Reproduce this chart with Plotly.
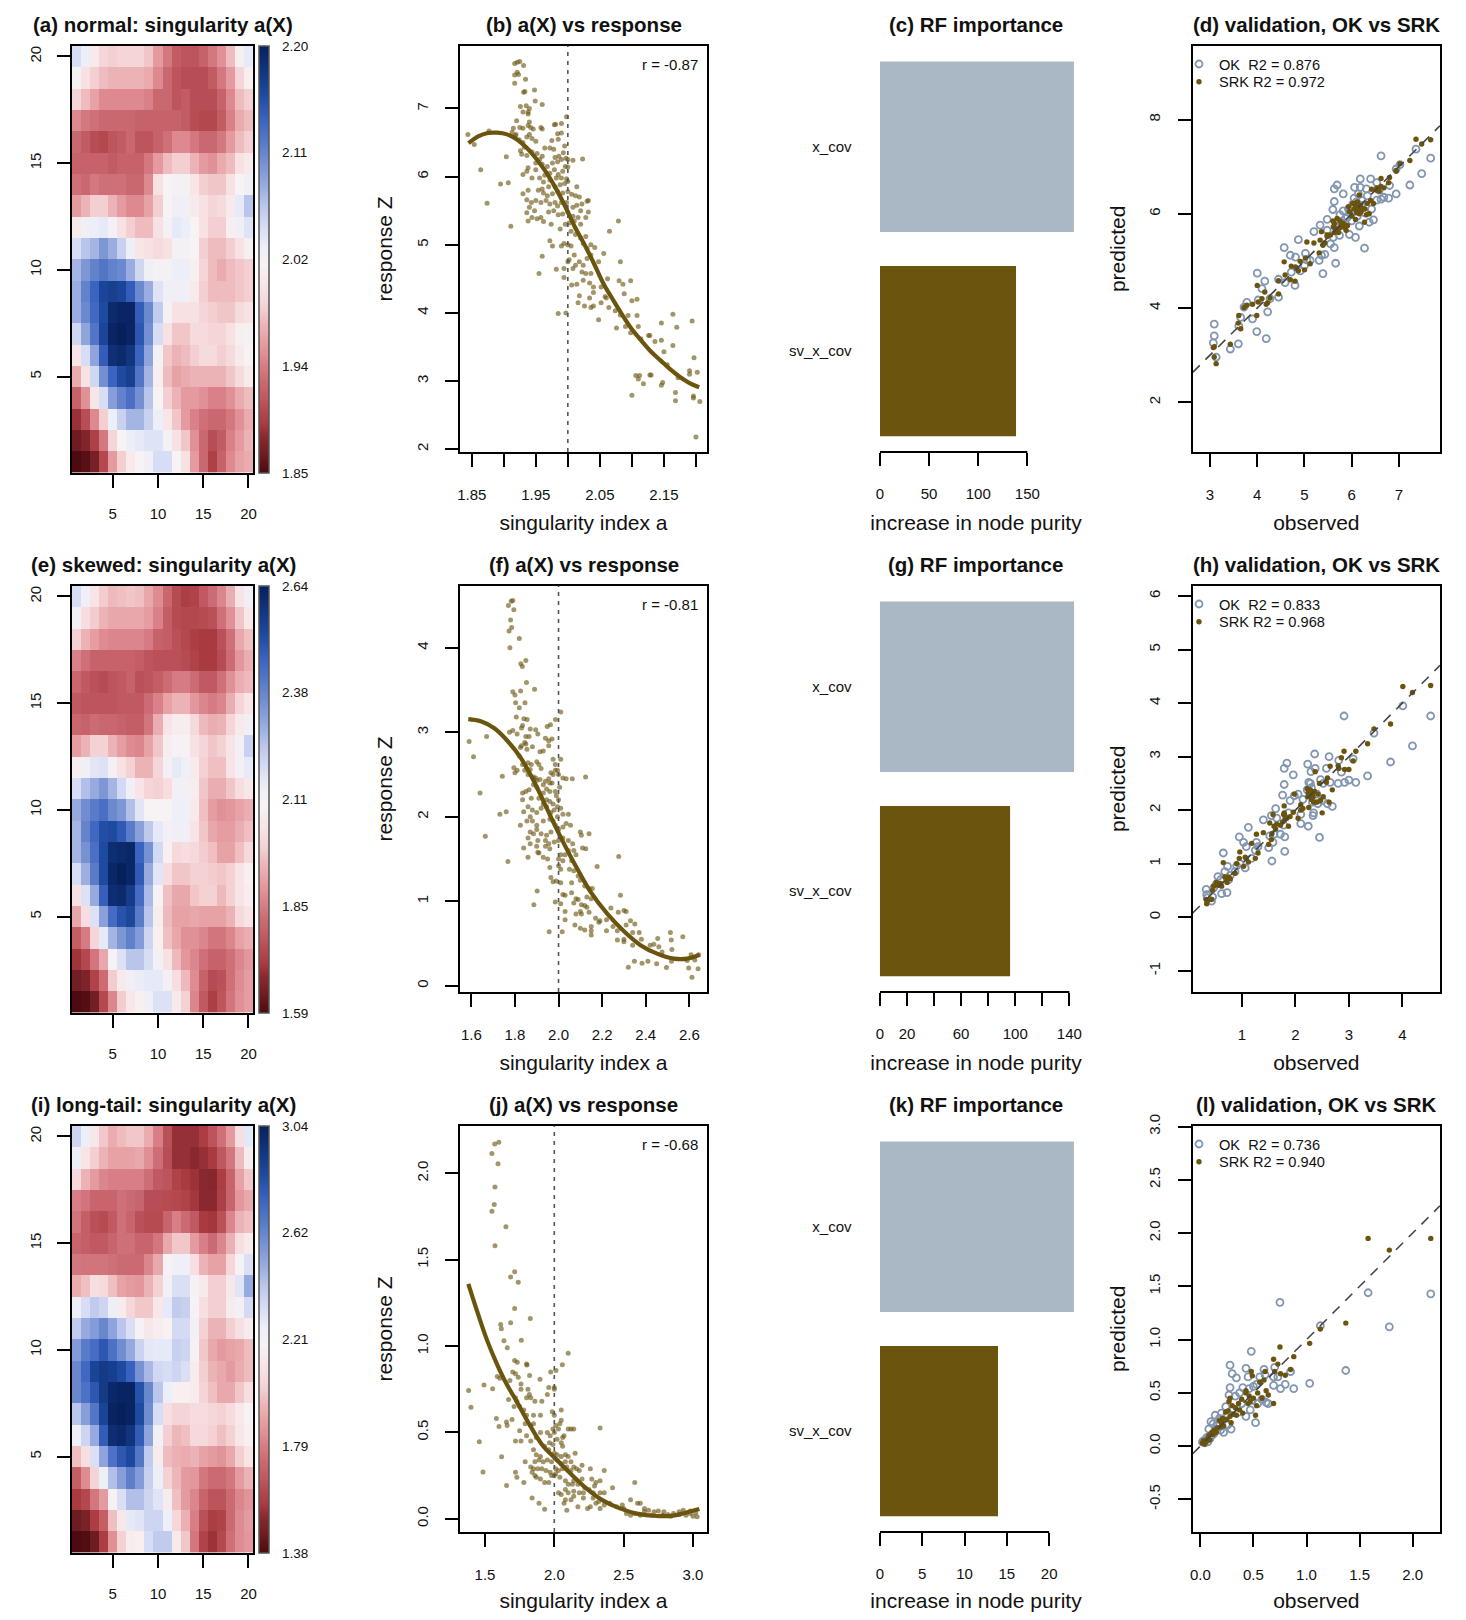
import plotly.graph_objects as go

W, H = 1466, 1620
PAGE_MARGIN = 8  # the browser's default body margin

# ---------- heatmap values, rows listed from y=20 (top) down to y=1 ----------
Z_NORMAL = [
[2.05,2.035,2.01,1.99,1.985,1.99,1.99,1.99,1.98,1.955,1.935,1.915,1.91,1.91,1.92,1.935,1.95,1.975,2.015,2.04],
[2.025,2.0,1.985,1.975,1.97,1.97,1.97,1.97,1.965,1.945,1.925,1.91,1.905,1.905,1.905,1.915,1.935,1.955,1.99,2.015],
[1.99,1.975,1.96,1.945,1.945,1.945,1.945,1.945,1.94,1.925,1.925,1.91,1.915,1.905,1.905,1.905,1.92,1.945,1.975,1.985],
[1.945,1.935,1.93,1.925,1.925,1.925,1.925,1.92,1.92,1.92,1.92,1.92,1.915,1.905,1.90,1.90,1.915,1.94,1.965,1.975],
[1.925,1.915,1.905,1.90,1.91,1.915,1.925,1.91,1.91,1.92,1.93,1.945,1.945,1.935,1.925,1.925,1.935,1.955,1.975,1.985],
[1.92,1.92,1.92,1.92,1.915,1.92,1.92,1.92,1.935,1.955,1.975,1.985,1.985,1.97,1.955,1.95,1.965,1.975,2.0,2.01],
[1.93,1.925,1.935,1.93,1.93,1.93,1.925,1.925,1.945,2.0,2.02,2.025,2.025,2.005,1.985,1.98,1.98,2.0,2.02,2.03],
[1.955,1.97,1.985,1.985,1.97,1.955,1.945,1.945,1.96,1.985,2.02,2.03,2.03,2.01,2.0,1.99,1.995,2.01,2.04,2.07],
[2.01,2.03,2.035,2.04,2.025,2.0,1.985,1.975,1.975,2.0,2.025,2.04,2.035,2.02,2.0,1.985,1.985,2.015,2.03,2.045],
[2.05,2.07,2.08,2.10,2.085,2.06,2.035,2.005,2.0,1.995,2.0,2.025,2.025,2.02,1.985,1.975,1.975,1.985,2.0,2.015],
[2.08,2.10,2.115,2.125,2.115,2.11,2.085,2.055,2.03,2.025,2.025,2.035,2.035,2.015,1.99,1.975,1.965,1.975,1.98,1.985],
[2.085,2.115,2.14,2.165,2.17,2.165,2.145,2.11,2.085,2.045,2.03,2.03,2.03,2.01,1.985,1.975,1.975,1.975,1.98,1.985],
[2.085,2.11,2.135,2.16,2.19,2.195,2.195,2.145,2.11,2.065,2.025,2.0,2.0,2.0,1.99,1.985,1.98,1.98,1.995,2.0],
[2.055,2.09,2.125,2.165,2.195,2.20,2.195,2.15,2.105,2.05,2.0,1.98,1.98,1.995,1.995,1.99,1.99,2.0,2.015,2.025],
[2.005,2.05,2.09,2.145,2.185,2.19,2.18,2.14,2.09,2.025,1.98,1.97,1.975,1.985,1.995,1.995,1.985,1.995,2.01,2.02],
[1.965,2.0,2.055,2.105,2.14,2.16,2.17,2.125,2.08,2.015,1.975,1.96,1.965,1.97,1.97,1.97,1.97,1.98,1.995,2.01],
[1.92,1.95,2.005,2.05,2.095,2.115,2.13,2.105,2.07,2.02,1.985,1.97,1.955,1.955,1.95,1.94,1.94,1.95,1.965,1.975],
[1.885,1.905,1.945,1.985,2.035,2.06,2.08,2.08,2.06,2.035,2.005,1.98,1.955,1.94,1.93,1.925,1.925,1.935,1.95,1.965],
[1.865,1.875,1.895,1.935,1.99,2.02,2.035,2.04,2.045,2.045,2.025,2.0,1.98,1.95,1.925,1.905,1.915,1.94,1.955,1.97],
[1.85,1.855,1.87,1.90,1.955,1.985,2.01,2.02,2.03,2.05,2.05,2.02,2.0,1.955,1.925,1.895,1.92,1.945,1.96,1.965],
]
Z_SKEWED = [
[2.19,2.14,2.05,1.99,1.96,1.97,1.98,1.97,1.93,1.88,1.81,1.75,1.72,1.73,1.78,1.82,1.87,1.94,2.05,2.13],
[2.12,2.03,1.99,1.95,1.93,1.93,1.93,1.93,1.91,1.86,1.79,1.75,1.74,1.74,1.75,1.76,1.83,1.89,1.98,2.06],
[2.00,1.95,1.91,1.88,1.87,1.87,1.87,1.87,1.85,1.80,1.79,1.76,1.74,1.72,1.71,1.71,1.76,1.83,1.93,1.97],
[1.86,1.83,1.80,1.80,1.80,1.80,1.80,1.79,1.77,1.76,1.76,1.76,1.75,1.73,1.71,1.71,1.75,1.82,1.90,1.94],
[1.81,1.78,1.76,1.75,1.77,1.78,1.80,1.76,1.77,1.79,1.82,1.85,1.85,1.82,1.78,1.78,1.83,1.89,1.94,1.96],
[1.78,1.77,1.77,1.77,1.77,1.78,1.78,1.78,1.82,1.86,1.92,1.95,1.95,1.90,1.87,1.85,1.87,1.94,2.01,2.05],
[1.81,1.80,1.82,1.81,1.81,1.80,1.79,1.79,1.84,1.94,2.05,2.08,2.08,2.02,1.96,1.94,1.95,2.01,2.07,2.13],
[1.91,1.95,2.00,2.00,1.95,1.91,1.88,1.87,1.92,1.98,2.08,2.11,2.11,2.04,2.01,1.98,2.00,2.05,2.12,2.22],
[2.08,2.13,2.17,2.18,2.12,2.04,2.00,1.95,1.95,2.01,2.12,2.16,2.14,2.07,2.00,1.97,1.97,2.05,2.12,2.16],
[2.19,2.26,2.30,2.34,2.28,2.20,2.13,2.05,2.01,2.00,2.03,2.12,2.12,2.08,1.98,1.94,1.94,1.98,2.03,2.06],
[2.30,2.36,2.40,2.43,2.37,2.34,2.26,2.17,2.10,2.10,2.10,2.14,2.14,2.07,1.97,1.91,1.89,1.90,1.92,1.94],
[2.28,2.38,2.45,2.51,2.52,2.48,2.40,2.32,2.24,2.16,2.12,2.13,2.13,2.05,1.98,1.93,1.91,1.91,1.94,1.97],
[2.28,2.35,2.43,2.52,2.60,2.61,2.62,2.46,2.35,2.20,2.09,2.02,2.03,2.02,1.99,1.97,1.92,1.92,1.97,2.02],
[2.19,2.29,2.40,2.52,2.62,2.64,2.62,2.48,2.30,2.17,2.03,1.98,1.98,2.00,2.00,1.99,1.98,2.00,2.05,2.09],
[2.04,2.18,2.30,2.47,2.60,2.61,2.56,2.44,2.27,2.11,1.97,1.93,1.93,1.98,2.00,2.00,1.96,2.00,2.05,2.08],
[1.93,2.03,2.18,2.32,2.44,2.50,2.53,2.40,2.25,2.08,1.96,1.92,1.92,1.93,1.92,1.92,1.92,1.95,2.02,2.05],
[1.79,1.85,2.01,2.16,2.28,2.34,2.39,2.33,2.21,2.09,1.97,1.93,1.89,1.89,1.87,1.84,1.84,1.87,1.92,1.94],
[1.70,1.74,1.84,1.93,2.11,2.18,2.25,2.25,2.19,2.12,2.04,1.96,1.90,1.87,1.83,1.80,1.80,1.83,1.87,1.90],
[1.64,1.66,1.73,1.82,1.99,2.07,2.13,2.15,2.16,2.16,2.12,2.03,1.96,1.88,1.80,1.75,1.76,1.83,1.88,1.91],
[1.59,1.60,1.64,1.74,1.87,1.99,2.06,2.09,2.13,2.18,2.18,2.07,2.00,1.87,1.78,1.72,1.77,1.84,1.89,1.91],
]
Z_LONGTAIL = [
[2.36,2.26,2.12,2.00,1.93,1.97,2.00,2.00,1.93,1.80,1.65,1.54,1.54,1.54,1.58,1.66,1.76,1.88,2.08,2.29],
[2.26,2.10,2.02,1.95,1.90,1.90,1.90,1.92,1.85,1.75,1.64,1.54,1.54,1.52,1.54,1.57,1.67,1.78,1.97,2.15],
[2.06,1.95,1.88,1.82,1.80,1.80,1.80,1.80,1.75,1.68,1.66,1.60,1.57,1.55,1.52,1.51,1.58,1.72,1.90,2.00],
[1.80,1.77,1.72,1.72,1.72,1.76,1.74,1.72,1.64,1.64,1.63,1.62,1.60,1.56,1.52,1.52,1.59,1.72,1.87,1.92],
[1.77,1.70,1.65,1.63,1.68,1.76,1.72,1.65,1.63,1.63,1.72,1.80,1.74,1.68,1.57,1.56,1.65,1.82,1.95,1.98],
[1.72,1.70,1.68,1.68,1.72,1.76,1.76,1.72,1.72,1.78,1.92,2.00,2.00,1.88,1.80,1.74,1.82,1.94,2.08,2.14],
[1.78,1.77,1.77,1.77,1.76,1.74,1.74,1.74,1.82,1.92,2.20,2.24,2.24,2.08,1.95,1.90,1.90,2.05,2.20,2.32],
[1.93,1.98,2.08,2.06,1.98,1.90,1.88,1.87,1.95,2.03,2.22,2.32,2.32,2.20,2.14,2.02,2.02,2.12,2.30,2.50],
[2.26,2.33,2.40,2.36,2.25,2.15,2.05,2.00,2.00,2.12,2.28,2.40,2.38,2.20,2.08,2.02,2.02,2.15,2.22,2.34],
[2.40,2.50,2.55,2.62,2.52,2.42,2.32,2.20,2.12,2.16,2.18,2.34,2.34,2.22,2.03,1.95,1.95,2.02,2.08,2.15],
[2.55,2.66,2.72,2.80,2.70,2.60,2.50,2.37,2.29,2.28,2.28,2.38,2.36,2.20,2.00,1.92,1.88,1.90,1.92,1.97],
[2.62,2.74,2.88,2.92,2.90,2.85,2.76,2.58,2.46,2.35,2.33,2.36,2.32,2.15,2.02,1.95,1.92,1.88,1.93,1.97],
[2.62,2.70,2.80,2.92,3.00,3.02,3.02,2.82,2.62,2.42,2.26,2.17,2.17,2.15,2.04,1.98,1.92,1.92,2.00,2.08],
[2.42,2.54,2.68,2.88,3.02,3.04,3.02,2.85,2.60,2.33,2.08,2.04,2.04,2.07,2.07,2.05,2.03,2.07,2.13,2.19],
[2.24,2.36,2.50,2.78,2.98,3.00,2.95,2.78,2.52,2.22,2.02,1.96,1.98,2.06,2.06,2.03,1.98,2.03,2.12,2.17],
[1.98,2.08,2.32,2.52,2.70,2.80,2.86,2.68,2.40,2.15,1.97,1.94,1.93,1.95,1.90,1.88,1.86,1.92,2.02,2.10],
[1.70,1.84,2.04,2.25,2.44,2.54,2.65,2.55,2.38,2.26,2.03,1.96,1.88,1.87,1.78,1.74,1.74,1.78,1.88,1.95],
[1.57,1.62,1.78,1.88,2.18,2.32,2.44,2.44,2.36,2.30,2.15,1.98,1.88,1.82,1.72,1.66,1.66,1.74,1.82,1.86],
[1.45,1.48,1.58,1.70,1.98,2.12,2.28,2.30,2.36,2.36,2.25,2.05,1.94,1.80,1.65,1.58,1.60,1.74,1.84,1.88],
[1.38,1.39,1.45,1.58,1.85,2.03,2.16,2.17,2.33,2.40,2.40,2.14,2.00,1.78,1.60,1.55,1.62,1.76,1.84,1.87],
]
GRID = list(range(1, 21))
CB_RANGES = [(1.85, 2.20), (1.59, 2.64), (1.38, 3.04)]
CB_TICKS = [[2.20, 2.11, 2.02, 1.94, 1.85], [2.64, 2.38, 2.11, 1.85, 1.59], [3.04, 2.62, 2.21, 1.79, 1.38]]

# ---------- a(X) vs response ----------
SCATTER_B = [
(1.844,6.62),(1.854,6.47),(1.864,6.10),(1.874,5.61),(1.877,6.67),(1.904,6.29),(1.895,5.89),(1.907,5.91),(1.911,5.27),
(1.917,7.66),(1.921,7.68),(1.925,7.69),(1.931,7.63),(1.921,7.53),(1.917,7.49),(1.923,7.50),(1.917,7.37),(1.934,7.43),(1.931,7.24),(1.933,7.25),
(1.948,7.27),(1.949,7.11),(1.960,7.06),(1.926,7.03),(1.935,7.04),(1.940,7.00),(1.930,6.95),(1.938,6.92),(1.938,6.95),(1.920,6.82),(1.940,6.80),
(1.938,6.75),(1.925,6.72),(1.930,6.71),(1.915,6.71),(1.913,6.65),(1.919,6.62),(1.942,6.72),(1.946,6.70),(1.958,6.72),(1.960,6.70),(1.979,6.76),
(1.981,6.77),(1.990,6.78),(1.998,6.88),(1.918,6.60),(1.924,6.54),(1.930,6.50),(1.936,6.58),(1.940,6.62),(1.944,6.56),(1.950,6.52),(1.932,6.43),
(1.926,6.38),(1.928,6.33),(1.936,6.31),(1.944,6.36),(1.952,6.34),(1.960,6.30),(1.964,6.42),(1.972,6.42),(1.978,6.40),(1.975,6.53),(1.985,6.55),
(1.984,6.63),(1.990,6.64),(1.995,6.45),(1.993,6.35),(1.986,6.30),(1.980,6.28),(1.950,6.20),(1.956,6.25),(1.960,6.18),(1.968,6.15),(1.976,6.20),
(1.984,6.22),(1.990,6.25),(1.997,6.27),(2.000,6.25),(2.008,6.24),(2.023,6.26),(1.996,6.15),(2.000,6.14),(1.992,6.08),(1.985,6.03),(1.979,6.10),
(1.972,6.05),(1.964,6.02),(1.938,6.13),(1.936,6.08),(1.930,6.03),(1.944,5.98),(1.950,6.10),(1.956,5.98),(1.962,5.92),(1.972,5.95),(1.982,5.98),
(1.990,5.98),(1.998,5.97),(2.000,5.93),(1.995,5.90),(1.988,5.88),(1.980,5.85),(1.970,5.85),(1.960,5.82),(1.954,5.80),(1.930,5.75),(1.938,5.80),
(1.962,5.76),(1.968,5.72),(1.976,5.75),(1.984,5.78),(1.992,5.76),(2.000,5.78),(2.006,5.74),(2.012,5.72),(2.014,5.85),(2.018,5.70),(2.030,5.64),
(2.032,5.65),(2.022,5.60),(2.014,5.58),(2.008,5.55),(1.998,5.62),(1.990,5.62),(1.984,5.57),(1.980,5.62),(1.972,5.60),(1.966,5.65),(1.958,5.62),
(1.950,5.65),(1.943,5.62),(1.936,5.66),(1.940,5.55),(1.948,5.50),(1.936,5.47),(1.944,5.40),(1.938,5.35),(1.952,5.38),(1.958,5.40),(1.970,5.48),
(1.978,5.50),(1.985,5.44),(1.992,5.45),(2.000,5.48),(2.008,5.42),(2.016,5.40),(2.020,5.50),(2.032,5.48),(2.028,5.40),(2.020,5.30),(2.010,5.35),
(2.002,5.32),(1.996,5.30),(1.988,5.23),(1.962,5.34),(1.974,5.30),(2.005,5.20),(2.012,5.15),(2.020,5.10),(2.028,5.12),(2.065,5.20),(2.079,5.35),
(2.024,5.02),(2.030,4.95),(2.036,5.00),(2.042,4.96),(2.036,4.85),(2.030,4.80),(2.024,4.70),(2.018,4.75),(2.010,4.85),(2.005,4.98),(2.000,5.00),
(1.994,5.02),(1.990,4.98),(1.972,5.06),(1.976,4.98),(1.960,4.83),(1.955,4.58),(1.982,4.64),(1.994,4.65),(1.994,4.52),(2.000,4.75),(2.002,4.78),
(2.008,4.65),(2.012,4.70),(2.006,4.41),(2.014,4.42),(2.022,4.60),(2.028,4.58),(2.036,4.58),(2.024,4.48),(2.034,4.44),(2.040,4.38),(2.052,4.38),
(2.056,4.87),(2.048,4.75),(2.062,4.50),(2.058,4.24),(2.060,4.22),(2.040,4.30),(2.034,4.22),(2.018,4.25),(2.016,4.15),(2.026,4.10),(2.036,4.08),
(2.040,4.10),(2.052,4.15),(2.064,4.08),(2.074,4.03),(2.080,4.47),(2.086,4.42),(2.098,4.47),(2.082,4.75),(2.088,4.28),(2.100,4.18),(2.108,4.20),
(2.082,3.97),(2.094,3.96),(2.108,3.96),(1.985,3.99),(1.997,4.00),(2.048,3.90),(2.076,3.78),(2.090,3.80),(2.098,3.71),(2.110,3.80),(2.114,3.62),
(2.126,3.67),(2.128,3.67),(2.136,3.58),(2.146,3.85),(2.146,3.60),(2.164,3.98),(2.170,3.79),(2.194,3.88),(2.164,3.52),(2.150,3.43),(2.155,3.24),
(2.106,3.08),(2.112,3.08),(2.110,3.03),(2.118,2.96),(2.128,3.09),(2.130,3.09),(2.146,2.94),(2.148,2.98),(2.168,2.83),(2.168,2.71),(2.172,3.05),
(2.196,2.78),(2.196,2.75),(2.190,3.15),(2.190,3.10),(2.202,3.13),(2.197,3.34),(2.206,2.70),(2.200,2.18),(2.100,2.79),
]
CURVE_B_X = [1.845,1.86,1.875,1.89,1.905,1.92,1.935,1.95,1.965,1.98,1.995,2.01,2.025,2.04,2.055,2.07,2.085,2.10,2.115,2.13,2.145,2.16,2.175,2.19,2.205]
CURVE_B_Y = [6.49,6.59,6.64,6.645,6.62,6.55,6.43,6.27,6.08,5.85,5.58,5.28,5.02,4.74,4.44,4.20,3.97,3.76,3.59,3.43,3.30,3.17,3.06,2.97,2.91]

SCATTER_F = [
(1.77,4.50),(1.783,4.55),(1.79,4.56),(1.795,4.45),(1.78,4.33),(1.773,4.20),(1.785,4.24),(1.777,4.00),(1.82,4.11),(1.827,3.81),(1.834,3.78),(1.85,3.85),
(1.853,3.59),(1.89,3.51),(1.79,3.48),(1.80,3.44),(1.826,3.49),(1.803,3.35),(1.846,3.35),(1.82,3.29),(1.806,3.18),(1.841,3.16),(1.856,3.15),(2.01,3.24),
(1.986,3.15),(1.963,3.09),(1.948,3.07),(1.59,2.89),(1.61,2.71),(1.67,2.95),(1.64,2.28),(1.664,1.77),(1.731,2.03),(1.76,2.06),(1.742,2.48),(1.768,1.47),
(1.887,0.96),(1.902,1.12),(1.957,0.64),(2.017,0.64),(1.775,3.00),(1.79,3.02),(1.81,2.98),(1.83,3.05),(1.835,3.08),(1.87,3.04),(1.895,3.03),(1.905,2.98),
(1.85,2.95),(1.865,2.95),(1.845,2.88),(1.85,2.86),(1.94,2.93),(1.955,2.90),(1.97,2.92),(1.955,2.84),(1.93,2.78),(1.915,2.77),(1.825,2.82),(1.83,2.84),(1.855,2.80),
(1.88,2.83),(1.82,2.72),(1.835,2.62),(1.86,2.64),(1.875,2.62),(1.90,2.65),(1.91,2.62),(1.92,2.57),(1.795,2.58),(1.80,2.52),(1.81,2.55),(1.845,2.55),(1.86,2.50),
(1.87,2.56),(1.885,2.47),(1.90,2.43),(1.895,2.46),(1.915,2.44),(1.93,2.38),(1.94,2.42),(1.955,2.45),(1.96,2.40),(1.965,2.52),(1.975,2.50),(1.985,2.55),(1.995,2.55),
(2.0,2.50),(2.01,2.68),(1.975,2.68),(1.985,2.62),(2.02,2.46),(2.035,2.45),(2.063,2.45),(2.124,2.47),(1.97,2.40),(1.985,2.30),(2.005,2.35),(1.96,2.30),(1.945,2.33),
(1.93,2.28),(1.90,2.35),(1.885,2.38),(1.865,2.32),(1.85,2.30),(1.835,2.28),(1.835,2.20),(1.875,2.22),(1.91,2.22),(1.93,2.15),(1.945,2.20),(1.96,2.18),(1.975,2.15),
(1.99,2.25),(2.0,2.20),(1.995,2.12),(2.01,2.10),(1.98,2.08),(1.965,2.05),(1.945,2.12),(1.92,2.10),(1.90,2.05),(1.88,2.08),(1.86,2.12),(1.84,2.06),(1.87,2.00),
(1.855,1.95),(1.825,1.90),(1.88,1.95),(1.90,1.90),(1.93,1.95),(1.96,1.97),(1.975,1.95),(1.995,2.00),(2.02,2.03),(2.045,2.03),(2.035,1.92),(2.055,1.90),(2.02,1.88),
(2.00,1.85),(1.985,1.90),(1.965,1.82),(1.945,1.78),(1.92,1.80),(1.90,1.85),(1.885,1.80),(1.87,1.82),(1.86,1.75),(1.905,1.72),(1.94,1.72),(1.955,1.68),(1.98,1.70),
(2.00,1.72),(2.02,1.75),(2.045,1.72),(2.065,1.68),(2.10,1.82),(2.14,1.80),(2.105,1.78),(2.11,1.63),(2.125,1.62),(2.07,1.60),(2.045,1.60),(2.03,1.55),(2.01,1.55),
(1.96,1.62),(1.94,1.65),(1.90,1.65),(1.87,1.68),(1.84,1.63),(1.86,1.52),(1.905,1.58),(1.91,1.57),(1.93,1.52),(1.95,1.50),(2.00,1.50),(2.02,1.48),(2.06,1.48),(2.08,1.55),
(2.177,1.41),(2.276,1.53),(2.0,1.42),(2.01,1.38),(1.96,1.40),(1.965,1.28),(1.975,1.23),(1.99,1.24),(2.01,1.22),(2.05,1.38),(2.07,1.36),(2.09,1.30),(2.06,1.22),(2.10,1.25),
(2.12,1.18),(2.14,1.15),(2.155,1.15),(2.06,1.10),(2.02,1.08),(2.03,1.07),(2.09,1.02),(2.08,1.03),(2.13,1.05),(2.15,1.03),(1.985,0.99),(2.01,0.97),(2.07,0.98),(2.105,0.96),
(2.12,0.95),(2.13,0.93),(2.10,0.88),(2.08,0.85),(2.03,0.88),(2.105,0.85),(2.14,0.87),(2.17,0.80),(2.185,0.75),(2.19,0.77),(2.22,0.78),(2.24,0.92),(2.274,0.87),(2.30,0.89),
(2.284,1.07),(2.31,0.88),(2.31,0.72),(2.33,0.77),(2.27,0.65),(2.25,0.70),(2.22,0.65),(2.15,0.70),(2.15,0.65),(2.15,0.60),(2.12,0.66),(2.10,0.68),(2.075,0.72),(2.03,0.78),
(2.27,0.54),(2.30,0.52),(2.30,0.55),(2.35,0.73),(2.34,0.63),(2.37,0.63),(2.34,0.48),(2.38,0.55),(2.513,0.63),(2.57,0.58),(2.517,0.54),(2.455,0.56),(2.42,0.48),(2.437,0.49),
(2.46,0.46),(2.475,0.40),(2.52,0.43),(2.32,0.22),(2.348,0.29),(2.383,0.265),(2.41,0.29),(2.45,0.26),(2.495,0.215),(2.518,0.29),(2.597,0.21),(2.612,0.10),(2.64,0.20),
(2.625,0.305),(2.608,0.367),(2.643,0.367),(2.59,0.30),
]
CURVE_F_X = [1.586,1.643,1.704,1.765,1.826,1.887,1.948,2.0,2.07,2.147,2.224,2.30,2.376,2.452,2.53,2.59,2.647]
CURVE_F_Y = [3.155,3.13,3.05,2.90,2.70,2.42,2.09,1.81,1.46,1.11,0.85,0.645,0.48,0.38,0.32,0.32,0.367]

SCATTER_J = [
(1.60,2.18),(1.57,2.17),(1.55,2.115),(1.594,2.055),(1.572,1.92),(1.567,1.82),(1.55,1.78),(1.651,1.69),(1.572,1.58),(1.714,1.43),(1.685,1.40),(1.74,1.37),(1.714,1.217),
(1.827,1.16),(1.685,1.135),(1.613,1.125),(1.618,1.10),(1.637,1.03),(1.762,1.034),(1.661,0.99),(2.10,0.958),(2.058,0.892),(1.714,0.916),(1.733,0.906),(1.80,0.896),(1.803,0.89),
(1.974,0.849),(2.012,0.859),(1.822,0.83),(1.897,0.807),(1.382,0.743),(1.399,0.645),(1.493,0.775),(1.555,0.753),(1.459,0.446),(1.486,0.271),(1.582,0.58),(1.601,0.534),(1.62,0.359),
(1.656,0.193),(1.589,0.823),(1.608,0.813),(1.70,0.85),(1.72,0.84),(1.74,0.82),(1.76,0.78),(1.68,0.80),(1.76,0.75),(1.81,0.75),(1.82,0.72),(1.83,0.70),(1.80,0.70),(1.96,0.76),(2.0,0.75),
(2.0,0.76),(1.95,0.72),(1.91,0.68),(1.86,0.68),(1.67,0.69),(1.72,0.70),(1.73,0.68),(1.71,0.65),(1.75,0.65),(1.78,0.63),(1.80,0.60),(1.85,0.60),(1.90,0.60),(1.985,0.62),(2.0,0.60),(2.05,0.63),
(2.01,0.54),(2.04,0.55),(2.05,0.57),(2.03,0.52),(2.10,0.52),(2.12,0.52),(2.14,0.52),(2.33,0.525),(1.655,0.56),(1.66,0.54),(1.695,0.575),(1.75,0.51),(1.83,0.54),(1.85,0.55),(1.79,0.55),
(1.80,0.48),(1.76,0.45),(1.72,0.45),(1.83,0.45),(1.87,0.47),(1.90,0.50),(1.95,0.50),(1.97,0.48),(1.99,0.52),(2.0,0.50),(1.965,0.44),(1.99,0.43),(2.02,0.46),(2.05,0.44),(2.06,0.42),(2.06,0.47),
(2.07,0.48),(1.85,0.40),(1.87,0.37),(1.90,0.36),(1.93,0.42),(1.96,0.40),(2.0,0.38),(2.02,0.37),(2.05,0.36),(2.08,0.37),(2.10,0.36),(2.15,0.38),(1.86,0.33),(1.89,0.34),(1.92,0.33),(1.95,0.34),
(1.98,0.33),(2.02,0.34),(2.05,0.32),(2.08,0.33),(2.12,0.33),(2.14,0.30),(2.16,0.29),(2.20,0.31),(1.79,0.33),(1.83,0.30),(1.85,0.29),(1.88,0.29),(1.91,0.29),(1.94,0.28),(1.97,0.27),(2.01,0.29),
(2.03,0.28),(2.06,0.29),(2.09,0.30),(2.12,0.28),(2.18,0.28),(2.26,0.29),(2.36,0.28),(1.72,0.27),(1.73,0.24),(1.78,0.21),(1.84,0.27),(1.86,0.25),(1.87,0.24),(1.90,0.23),(1.93,0.21),(1.96,0.21),
(1.98,0.25),(2.0,0.25),(2.01,0.26),(2.04,0.24),(2.08,0.22),(2.10,0.20),(2.13,0.20),(2.14,0.22),(2.17,0.20),(2.20,0.23),(2.27,0.23),(2.30,0.21),(2.33,0.22),(2.22,0.18),(2.25,0.17),(2.29,0.19),
(2.03,0.15),(2.05,0.14),(2.08,0.17),(2.10,0.15),(2.14,0.16),(2.18,0.15),(2.21,0.15),(2.28,0.15),(2.33,0.15),(2.36,0.15),(2.42,0.18),(1.84,0.12),(1.89,0.09),(1.93,0.055),(2.07,0.09),(2.08,0.11),
(2.09,0.05),(2.12,0.11),(2.14,0.13),(2.17,0.07),(2.21,0.12),(2.24,0.06),(2.28,0.12),(2.30,0.09),(2.26,0.07),(2.32,0.10),(2.33,0.06),(2.36,0.08),(2.40,0.09),(2.45,0.07),(2.49,0.08),(2.50,0.06),
(2.55,0.11),(2.52,0.03),(2.60,0.09),(2.58,0.21),(2.62,0.09),(2.65,0.06),(2.68,0.05),(2.72,0.04),(2.75,0.045),(2.79,0.04),(2.55,0.02),(2.58,0.03),(2.62,0.02),(2.65,0.04),(2.70,0.02),(2.78,0.02),
(2.82,0.025),(2.86,0.03),(2.90,0.04),(2.93,0.05),(2.95,0.02),(2.98,0.03),(3.0,0.015),(3.03,0.012),(3.02,0.035),(2.98,0.045),(2.9,0.025),(2.84,0.015),
]
CURVE_J_X = [1.38,1.44,1.512,1.584,1.656,1.728,1.825,1.92,2.0,2.113,2.233,2.353,2.473,2.594,2.738,2.858,2.954,3.046]
CURVE_J_Y = [1.36,1.21,1.04,0.90,0.78,0.68,0.54,0.42,0.355,0.265,0.175,0.105,0.06,0.03,0.016,0.018,0.036,0.056]

# ---------- RF importance ----------
BAR_NAMES = ["sv_x_cov", "x_cov"]
IMP_C = [138.5, 197.5]
IMP_G = [96.2, 143.5]
IMP_K = [13.95, 22.93]

# ---------- validation: observed, OK prediction, SRK prediction ----------
VAL_D = [
(3.07,3.26,3.16),(3.09,3.66,2.96),(3.09,3.41,3.18),(3.13,2.96,2.82),(3.43,3.13,3.23),(3.60,3.24,3.68),(3.61,3.62,3.84),(3.65,3.80,3.56),(3.72,4.02,4.01),(3.78,4.12,4.06),
(3.90,3.77,4.08),(3.99,3.50,3.84),(4.00,4.74,4.48),(4.02,4.17,4.13),(4.10,4.41,4.20),(4.16,4.57,4.34),(4.19,3.35,4.08),(4.22,3.92,4.11),(4.27,4.20,4.21),(4.45,4.23,4.30),
(4.45,4.61,4.58),(4.57,5.28,4.98),(4.59,4.54,4.70),(4.70,5.12,4.60),(4.72,4.76,4.89),(4.80,4.48,4.57),(4.81,5.08,4.87),(4.87,5.45,4.79),(4.91,4.79,4.99),(5.00,4.90,4.81),
(5.02,5.16,5.06),(5.05,5.02,5.40),(5.12,5.01,4.94),(5.20,5.62,5.38),(5.31,5.01,5.17),(5.33,5.76,5.44),(5.36,5.12,5.62),(5.39,4.73,5.33),(5.43,5.14,5.38),(5.48,5.88,5.55),
(5.48,5.65,5.52),(5.55,5.36,5.55),(5.60,6.09,5.85),(5.61,5.50,5.72),(5.63,5.28,5.60),(5.63,6.26,5.80),(5.63,6.53,5.72),(5.66,4.95,5.65),(5.69,6.61,5.90),(5.72,5.72,5.60),
(5.74,5.54,5.70),(5.75,5.98,5.85),(5.78,5.80,5.78),(5.82,6.42,5.72),(5.82,6.06,5.80),(5.88,5.90,5.65),(5.91,5.93,5.75),(5.93,6.10,6.15),(5.95,5.56,6.05),(6.00,5.85,5.95),
(6.02,6.20,6.22),(6.05,6.33,6.10),(6.06,6.56,6.22),(6.08,5.50,5.88),(6.08,6.05,6.15),(6.10,6.25,6.03),(6.12,5.95,6.25),(6.14,6.42,6.06),(6.16,5.74,6.00),(6.16,6.05,6.40),
(6.18,6.56,6.10),(6.18,6.74,6.18),(6.20,6.18,6.05),(6.22,6.28,6.12),(6.27,5.27,5.82),(6.28,6.02,6.10),(6.31,6.53,5.98),(6.33,6.38,6.22),(6.37,5.82,6.00),(6.40,6.74,6.28),
(6.42,6.10,6.52),(6.46,5.87,6.22),(6.53,6.66,6.50),(6.53,6.29,6.55),(6.58,6.50,6.48),(6.62,7.23,6.75),(6.62,6.31,6.58),(6.68,6.35,6.55),(6.78,6.33,6.66),(6.80,6.60,6.77),
(6.94,6.42,6.92),(6.94,6.95,6.90),(7.02,7.04,7.06),(7.23,6.61,7.13),(7.36,7.37,7.58),(7.48,6.85,7.48),(7.67,7.18,7.57),
]
VAL_H = [
(0.33,0.52,0.33),(0.34,0.42,0.25),(0.35,0.36,0.30),(0.43,0.30,0.33),(0.45,0.38,0.50),(0.47,0.55,0.58),(0.52,0.62,0.65),(0.55,0.76,0.60),(0.60,0.70,0.63),(0.62,0.44,0.58),
(0.65,1.20,1.02),(0.68,0.85,0.75),(0.72,0.46,0.65),(0.73,0.95,0.72),(0.75,0.70,0.75),(0.78,0.78,0.72),(0.87,0.85,0.82),(0.90,0.96,1.00),(0.95,1.50,1.10),(0.96,1.00,1.22),
(1.03,1.40,0.95),(1.06,0.92,1.12),(1.08,1.32,1.10),(1.12,1.68,1.03),(1.18,1.10,1.38),(1.25,1.25,1.10),(1.27,1.40,1.55),(1.30,1.32,1.20),(1.40,1.82,1.58),(1.50,1.30,1.36),
(1.52,1.52,1.76),(1.55,1.90,1.45),(1.56,1.05,1.56),(1.58,1.40,1.92),(1.60,1.55,1.70),(1.63,2.03,1.65),(1.65,1.85,1.74),(1.72,1.55,1.72),(1.76,2.28,1.78),(1.78,1.72,1.92),
(1.79,2.48,1.95),(1.79,2.78,2.08),(1.80,1.23,1.82),(1.80,1.50,1.90),(1.84,2.88,1.85),(1.87,1.95,1.70),(1.90,2.18,1.88),(1.96,2.66,1.96),(1.98,2.27,2.30),(2.05,2.30,1.85),
(2.10,1.75,2.00),(2.10,1.92,2.10),(2.14,2.20,2.03),(2.22,2.38,2.40),(2.23,2.86,2.25),(2.24,1.70,2.32),(2.25,2.52,2.05),(2.28,2.50,2.38),(2.29,2.72,2.30),(2.30,2.42,2.20),
(2.32,2.15,2.28),(2.33,1.90,2.25),(2.34,1.95,2.15),(2.36,3.05,2.35),(2.37,2.78,2.72),(2.40,2.30,2.15),(2.42,2.12,2.30),(2.45,1.49,2.50),(2.47,2.57,2.18),(2.50,2.18,1.95),
(2.52,2.50,2.25),(2.58,2.78,2.52),(2.60,2.12,2.60),(2.63,3.00,2.15),(2.65,2.52,2.82),(2.69,2.07,2.38),(2.80,2.50,2.83),(2.81,2.93,2.78),(2.86,2.71,2.98),(2.91,3.76,3.10),
(2.92,2.52,2.76),(3.00,2.56,2.76),(3.08,2.96,2.92),(3.13,2.52,3.10),(3.35,2.64,3.24),(3.47,3.44,3.52),(3.78,2.90,3.61),(4.01,3.95,4.31),(4.19,3.20,4.20),(4.53,3.76,4.33),
]
VAL_L = [
(0.02,0.04,0.03),(0.03,0.05,0.05),(0.04,0.03,0.02),(0.05,0.06,0.04),(0.06,0.08,0.05),(0.07,0.04,0.07),(0.08,0.16,0.10),(0.09,0.07,0.06),(0.10,0.23,0.12),(0.11,0.10,0.13),
(0.12,0.21,0.11),(0.13,0.12,0.15),(0.14,0.29,0.14),(0.15,0.16,0.13),(0.16,0.19,0.17),(0.18,0.26,0.24),(0.19,0.15,0.18),(0.20,0.31,0.22),(0.21,0.24,0.26),(0.22,0.13,0.19),
(0.24,0.37,0.32),(0.25,0.30,0.25),(0.26,0.20,0.33),(0.27,0.48,0.42),(0.28,0.76,0.45),(0.28,0.55,0.28),(0.29,0.16,0.22),(0.30,0.68,0.38),(0.31,0.35,0.30),(0.33,0.47,0.36),
(0.34,0.64,0.29),(0.36,0.32,0.40),(0.37,0.50,0.34),(0.39,0.40,0.44),(0.40,0.55,0.31),(0.43,0.73,0.52),(0.43,0.28,0.50),(0.45,0.65,0.40),(0.46,0.54,0.47),(0.47,0.34,0.42),
(0.48,0.89,0.70),(0.49,0.43,0.66),(0.50,0.56,0.45),(0.52,0.22,0.29),(0.53,0.58,0.38),(0.54,0.40,0.50),(0.56,0.65,0.60),(0.58,0.44,0.45),(0.60,0.72,0.62),(0.61,0.67,0.70),
(0.62,0.41,0.52),(0.64,0.40,0.48),(0.69,0.57,0.40),(0.69,0.65,0.815),(0.70,0.74,0.70),(0.73,0.65,0.77),(0.75,1.35,0.93),(0.755,0.54,0.68),(0.80,0.58,0.665),(0.85,0.70,0.72),
(0.88,0.54,0.84),(1.03,0.59,0.965),(1.13,1.13,1.10),(1.37,0.71,1.155),(1.58,1.44,1.95),(1.78,1.12,1.84),(2.17,1.43,1.95),
]
R_TEXT = ["r = -0.87", "r = -0.81", "r = -0.68"]
LEG_OK = ["OK\u00a0\u00a0R2 = 0.876", "OK\u00a0\u00a0R2 = 0.833", "OK\u00a0\u00a0R2 = 0.736"]
LEG_SRK = ["SRK R2 = 0.972", "SRK R2 = 0.968", "SRK R2 = 0.940"]
TITLES = [
 ["(a) normal: singularity a(X)", "(b) a(X) vs response", "(c) RF importance", "(d) validation, OK vs SRK"],
 ["(e) skewed: singularity a(X)", "(f) a(X) vs response", "(g) RF importance", "(h) validation, OK vs SRK"],
 ["(i) long-tail: singularity a(X)", "(j) a(X) vs response", "(k) RF importance", "(l) validation, OK vs SRK"],
]

# ---------- styling ----------
FONT = "Liberation Sans, Arial, sans-serif"
BROWN = "#6B540E"
SLATE = "#AAB7C4"
OKBLUE = "#8296B2"
ANCHORS = [(0,'#4d0a10'),(.043,'#6e1c22'),(.086,'#8a2a30'),(.114,'#a93a40'),(.171,'#bd555c'),(.214,'#ca6870'),
           (.257,'#d98088'),(.3,'#e49a9e'),(.343,'#ecb3b6'),(.386,'#f3cfd1'),(.43,'#f8e2e4'),(.486,'#f7f2f3'),
           (.53,'#eceef8'),(.57,'#d8def4'),(.63,'#b8c4ea'),(.686,'#8fa4dc'),(.77,'#5a7cc8'),(.83,'#3a62c0'),
           (.886,'#1e4aa0'),(1,'#06205c')]
COLORSCALE = [[t, c] for t, c in ANCHORS]

FW, FH = W - 2 * PAGE_MARGIN, H - 2 * PAGE_MARGIN
def fx(p): return (p - PAGE_MARGIN) / FW
def fy(p): return 1 - (p - PAGE_MARGIN) / FH

TICK = dict(ticks="outside", ticklen=13, tickwidth=2, tickcolor="black",
            tickfont=dict(family=FONT, size=15, color="#111"), showgrid=False, zeroline=False)
FRAME = dict(showline=True, linewidth=2, linecolor="black", mirror=True)
LABEL = dict(family=FONT, size=21, color="#111")

ROW_STEP, TOP, BOT, HBOT = 540, 45.8, 451.9, 472.6
TITLE_Y, R_Y, LEG1_Y, LEG2_Y = 24.8, 64.6, 64, 81.7

fig = go.Figure()
layout = {}
annots = []
shapes = []
ax = 0

def axes(x_dom, y_dom, xa, ya):
    global ax
    ax += 1
    sfx = "" if ax == 1 else str(ax)
    layout["xaxis" + sfx] = dict(domain=[fx(x_dom[0]), fx(x_dom[1])], anchor="y" + sfx, **xa)
    layout["yaxis" + sfx] = dict(domain=[fy(y_dom[1]), fy(y_dom[0])], anchor="x" + sfx, **ya)
    return "x" + sfx, "y" + sfx

def title(text, cx, cy):
    annots.append(dict(text="<b>%s</b>" % text, x=fx(cx), y=fy(cy), xref="paper", yref="paper",
                       showarrow=False, xanchor="center", yanchor="middle",
                       font=dict(family=FONT, size=20.5, color="#111")))

HEATS = [Z_NORMAL, Z_SKEWED, Z_LONGTAIL]
SCATS = [
 (SCATTER_B, CURVE_B_X, CURVE_B_Y, [1.8317,2.2172], [1.96,7.92], [1.85,1.90,1.95,2.00,2.05,2.10,2.15,2.20],
  ["1.85","","1.95","","2.05","","2.15",""], [2,3,4,5,6,7], ["2","3","4","5","6","7"]),
 (SCATTER_F, CURVE_F_X, CURVE_F_Y, [1.548,2.681], [-0.073,4.734], [1.6,1.8,2.0,2.2,2.4,2.6],
  ["1.6","1.8","2.0","2.2","2.4","2.6"], [0,1,2,3,4], ["0","1","2","3","4"]),
 (SCATTER_J, CURVE_J_X, CURVE_J_Y, [1.32,3.101], [-0.076,2.275], [1.5,2.0,2.5,3.0],
  ["1.5","2.0","2.5","3.0"], [0,0.5,1,1.5,2], ["0.0","0.5","1.0","1.5","2.0"]),
]
BARS = [
 (IMP_C, [-28,223.5], [0,50,100,150], ["0","50","100","150"]),
 (IMP_G, [-20.3,162.3], [0,20,40,60,80,100,120,140], ["0","20","","60","","100","","140"]),
 (IMP_K, [-3.25,25.95], [0,5,10,15,20], ["0","5","10","15","20"]),
]
VALS = [
 (VAL_D, [2.634,7.868], [0.947,9.564], [3,4,5,6,7], ["3","4","5","6","7"], [2,4,6,8], ["2","4","6","8"]),
 (VAL_H, [0.078,4.705], [-1.396,6.193], [1,2,3,4], ["1","2","3","4"], [-1,0,1,2,3,4,5,6], ["-1","0","1","2","3","4","5","6"]),
 (VAL_L, [-0.0716,2.257], [-0.805,3.007], [0,0.5,1,1.5,2], ["0.0","0.5","1.0","1.5","2.0"],
  [-0.5,0,0.5,1,1.5,2,2.5,3], ["-0.5","0.0","0.5","1.0","1.5","2.0","2.5","3.0"]),
]

for r in range(3):
    off = ROW_STEP * r
    top, bot, hbot = TOP + off, BOT + off, HBOT + off

    # heatmap + colour key
    xn, yn = axes((72, 253), (top, hbot),
        dict(range=[0.5,20.5], tickvals=[5,10,15,20], ticklabelstandoff=13, **TICK, **FRAME),
        dict(range=[0.5,20.5], tickvals=[5,10,15,20], tickangle=-90, ticklabelstandoff=10, **TICK, **FRAME))
    zmin, zmax = CB_RANGES[r]
    tv = [zmax - i * (zmax - zmin) / 4 for i in range(5)]
    fig.add_trace(go.Heatmap(z=HEATS[r], x=GRID, y=list(range(20, 0, -1)), zmin=zmin, zmax=zmax,
        colorscale=COLORSCALE, xaxis=xn, yaxis=yn,
        colorbar=dict(x=fx(259), xanchor="left", xpad=0, ypad=0, thickness=10, thicknessmode="pixels",
                      lenmode="fraction", len=(hbot - top) / FH, y=fy(top), yanchor="top",
                      outlinewidth=1.5, outlinecolor="#555",
                      tickmode="array", tickvals=tv, ticktext=["%.2f" % v for v in CB_TICKS[r]],
                      ticks="outside", ticklen=10, tickcolor="rgba(0,0,0,0)",
                      tickfont=dict(family=FONT, size=13.5, color="#111"))))
    title(TITLES[r][0], 163, TITLE_Y + off)

    # scatter
    pts, cx, cy, xr, yr, xt, xl, yt, yl = SCATS[r]
    xn, yn = axes((460, 707), (top, bot),
        dict(range=xr, tickvals=xt, ticktext=xl, ticklabelstandoff=15, title=dict(text="singularity index a", font=LABEL, standoff=13.5), **TICK, **FRAME),
        dict(range=yr, tickvals=yt, ticktext=yl, tickangle=-90, ticklabelstandoff=11, title=dict(text="response Z", font=LABEL, standoff=16), **TICK, **FRAME))
    fig.add_trace(go.Scatter(x=[p[0] for p in pts], y=[p[1] for p in pts], mode="markers", xaxis=xn, yaxis=yn,
        marker=dict(color=BROWN, size=5, opacity=0.62, line=dict(width=0)), showlegend=False))
    fig.add_trace(go.Scatter(x=cx, y=cy, mode="lines", xaxis=xn, yaxis=yn,
        line=dict(color=BROWN, width=4.2, shape="spline"), showlegend=False))
    shapes.append(dict(type="line", xref=xn, yref=yn + " domain", x0=2, x1=2, y0=0, y1=1,
                       line=dict(color="#555", width=1.6, dash="4px,5px")))
    annots.append(dict(text=R_TEXT[r], x=fx(700), y=fy(R_Y + off), xref="paper", yref="paper", showarrow=False,
                       xanchor="right", yanchor="middle", font=dict(family=FONT, size=15, color="#111")))
    title(TITLES[r][1], 583.5, TITLE_Y + off)

    # RF importance bars
    imp, xr, xt, xl = BARS[r]
    xn, yn = axes((852.5, 1099.5), (top, bot),
        dict(range=xr, tickvals=xt, ticktext=xl, ticklabelstandoff=15, title=dict(text="increase in node purity", font=LABEL, standoff=13.5), showline=False, **TICK),
        dict(type="category", categoryorder="array", categoryarray=BAR_NAMES, range=[-0.493,1.494], ticks="", showgrid=False,
             zeroline=False, showline=False, tickfont=dict(family=FONT, size=15, color="#111")))
    fig.add_trace(go.Bar(y=BAR_NAMES, x=imp, orientation="h", width=0.834, xaxis=xn, yaxis=yn,
        marker=dict(color=[BROWN, SLATE], line=dict(width=0)), showlegend=False))
    shapes.append(dict(type="line", xref=xn, yref=yn + " domain", x0=xt[0], x1=xt[-1], y0=0, y1=0,
                       line=dict(color="black", width=2)))
    title(TITLES[r][2], 976, TITLE_Y + off)

    # validation
    tri, xr, yr, xt, xl, yt, yl = VALS[r]
    xn, yn = axes((1192.7, 1440), (top, bot),
        dict(range=xr, tickvals=xt, ticktext=xl, ticklabelstandoff=15, title=dict(text="observed", font=LABEL, standoff=13.5), **TICK, **FRAME),
        dict(range=yr, tickvals=yt, ticktext=yl, tickangle=-90, ticklabelstandoff=12, title=dict(text="predicted", font=LABEL, standoff=14), **TICK, **FRAME))
    obs = [t[0] for t in tri]
    lg_ok = "legend" if r == 0 else "legend%d" % (2 * r + 1)
    lg_srk = "legend%d" % (2 * r + 2)
    fig.add_trace(go.Scatter(x=obs, y=[t[1] for t in tri], mode="markers", name=LEG_OK[r], xaxis=xn, yaxis=yn, legend=lg_ok,
        marker=dict(symbol="circle-open", color=OKBLUE, size=7, line=dict(width=1.8, color=OKBLUE))))
    fig.add_trace(go.Scatter(x=obs, y=[t[2] for t in tri], mode="markers", name=LEG_SRK[r], xaxis=xn, yaxis=yn, legend=lg_srk,
        marker=dict(color=BROWN, size=5.4, line=dict(width=0))))
    lo, hi = xr
    fig.add_trace(go.Scatter(x=[lo, hi], y=[lo, hi], mode="lines", xaxis=xn, yaxis=yn, showlegend=False,
        line=dict(color="#444", width=1.6, dash="10px,8px")))
    for lg, ly in ((lg_ok, LEG1_Y), (lg_srk, LEG2_Y)):
        layout[lg] = dict(x=fx(1179), y=fy(ly + off), xanchor="left", yanchor="middle", bgcolor="rgba(0,0,0,0)",
                          font=dict(family=FONT, size=14.6, color="#111"), itemwidth=30, borderwidth=0)
    title(TITLES[r][3], 1316, TITLE_Y + off)

fig.update_layout(width=FW, height=FH, margin=dict(l=0, r=0, t=0, b=0, autoexpand=False), autosize=False,
                  paper_bgcolor="white", plot_bgcolor="white", annotations=annots, shapes=shapes,
                  font=dict(family=FONT), **layout)
fig.write_html("out.html")
